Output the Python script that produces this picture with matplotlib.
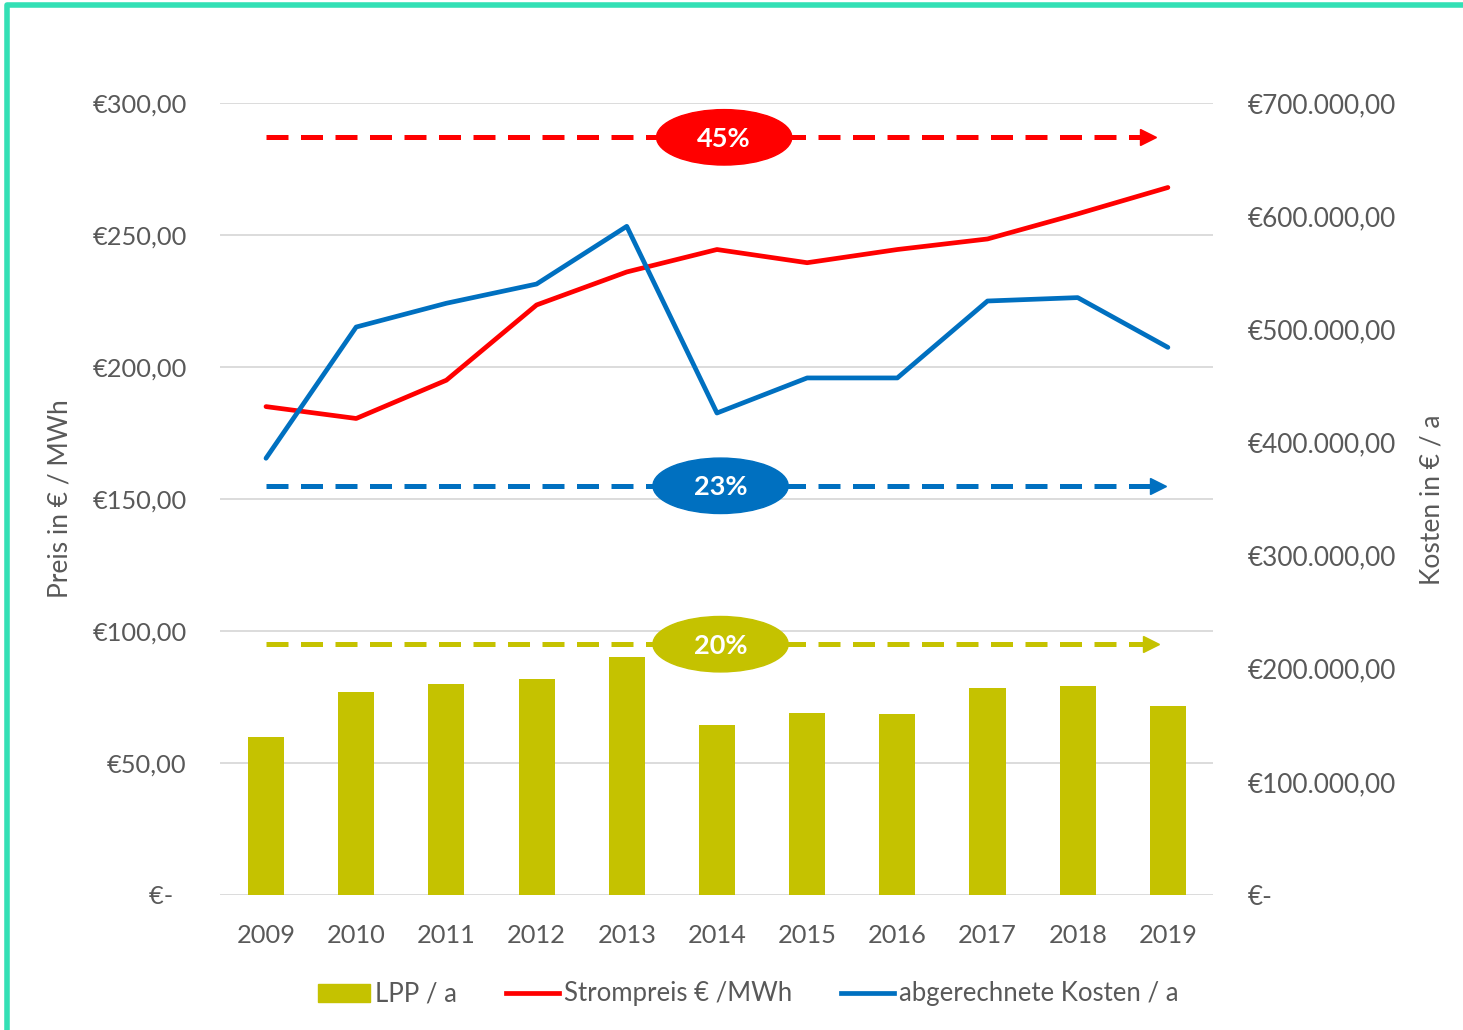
import matplotlib.pyplot as plt
import matplotlib.patches as mpatches
from matplotlib.lines import Line2D
from matplotlib.ticker import FuncFormatter

years = ["2009", "2010", "2011", "2012", "2013", "2014", "2015", "2016", "2017", "2018", "2019"]
lpp = [60, 77, 80, 82, 90, 64.5, 69, 68.5, 78.5, 79, 71.5]
strompreis = [185, 180.5, 195, 223.5, 236, 244.5, 239.5, 244.5, 248.5, 258, 268]
kosten = [386000, 502000, 523000, 540000, 591000, 426000, 457000, 457000, 525000, 528000, 484000]

# Trendpfeile: Beschriftung, Hoehe (linke Achse), Ende, Farbe, Mitte der Ellipse
trends = [("45%", 287, 9.73, "#ff0000", 5.08),
          ("23%", 155, 9.84, "#0070c0", 5.04),
          ("20%", 95, 9.76, "#c5c200", 5.04)]

OLIVE = "#c5c200"
RED = "#ff0000"
BLUE = "#0070c0"
GREY = "#595959"

plt.rcParams["font.family"] = ["Lato", "DejaVu Sans"]

fig = plt.figure(figsize=(14.63, 10.30), dpi=100)
ax = fig.add_axes([220 / 1463, 1 - 895 / 1030, (1213 - 220) / 1463, (895 - 103) / 1030])
ax2 = ax.twinx()

x = list(range(len(years)))
ax.bar(x, lpp, width=0.4, color=OLIVE, zorder=2)
ax.plot(x, strompreis, color=RED, lw=3.4, solid_capstyle="round", zorder=3)
ax2.plot(x, kosten, color=BLUE, lw=3.4, solid_capstyle="round", zorder=3)

ax.set_xlim(-0.51, 10.5)
ax.set_ylim(0, 300)
ax2.set_ylim(0, 700000)
ax.set_yticks(range(0, 301, 50))
ax2.set_yticks(range(0, 700001, 100000))
ax.set_xticks(x)
ax.set_xticklabels(years)


def left_fmt(v, pos):
    if v == 0:
        return "€-  "
    return "€" + f"{v:.2f}".replace(".", ",")


def right_fmt(v, pos):
    if v == 0:
        return "€-"
    return "€" + f"{v:,.2f}".replace(",", "X").replace(".", ",").replace("X", ".")


ax.yaxis.set_major_formatter(FuncFormatter(left_fmt))
ax2.yaxis.set_major_formatter(FuncFormatter(right_fmt))

ax.grid(axis="y", color="#d9d9d9", lw=1.3, zorder=0)
ax.set_axisbelow(True)
for a in (ax, ax2):
    for s in a.spines.values():
        s.set_visible(False)
ax.tick_params(axis="y", length=0, pad=24, labelsize=18.3, labelcolor=GREY)
ax.tick_params(axis="x", length=0, pad=21, labelsize=18.3, labelcolor=GREY)
ax2.tick_params(axis="y", length=0, pad=25, labelsize=18.8, labelcolor=GREY)

fig.text(60 / 1463, 1 - 499 / 1030, "Preis in € / MWh", rotation=90, ha="center", va="center",
         fontsize=19, color=GREY)
fig.text(1432 / 1463, 1 - 500 / 1030, "Kosten in € / a", rotation=90, ha="center", va="center",
         fontsize=19, color=GREY)

for label, y, xend, col, xc in trends:
    ax.plot([0, xend], [y, y], color=col, lw=3.6, ls=(0, (4.4, 2.5)), zorder=4)
    ax.plot([xend + 0.05], [y], marker=">", color=col, ms=11, zorder=4)
    ax.add_patch(mpatches.Ellipse((xc, y), 1.5, 21, color=col, zorder=5))
    ax.text(xc, y - 0.5, label, ha="center", va="center", color="white", fontsize=19.5,
            fontweight="bold", zorder=6)

handles = [mpatches.Patch(color=OLIVE),
           Line2D([], [], color=RED, lw=3.4),
           Line2D([], [], color=BLUE, lw=3.4)]
fig.legend(handles, ["LPP / a", "Strompreis € /MWh", "abgerechnete Kosten / a"],
           loc="center", bbox_to_anchor=(748 / 1463, 1 - 994 / 1030), ncol=3,
           frameon=False, fontsize=18.5, labelcolor=GREY, handlelength=2.05,
           handletextpad=0.2, columnspacing=1.9)

# Rahmen oben und links
fig.add_artist(Line2D([7 / 1463, 7 / 1463, 1], [0, 1 - 5 / 1030, 1 - 5 / 1030],
                      color="#33e0b5", lw=4, transform=fig.transFigure))

fig.savefig("out.png", dpi=100)
